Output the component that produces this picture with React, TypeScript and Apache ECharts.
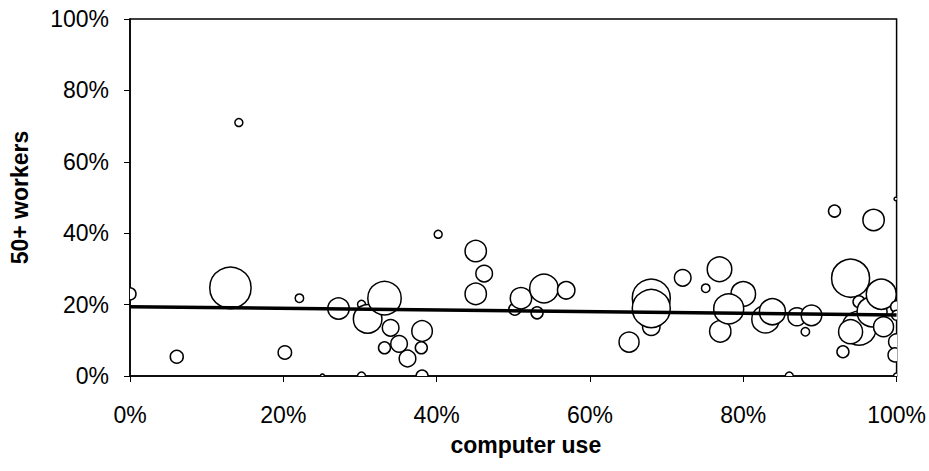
import React, { useEffect, useRef } from "react";
import * as echarts from "echarts";

// computer use (%), share of 50+ workers (%), employment weight (bubble area)
const computerUse = [
  0, 6.1, 13.1, 14.2, 20.2, 22.1, 25.1, 27.2, 30.2, 30.2,
  31.0, 33.2, 33.2, 34.0, 35.1, 36.2, 38.1, 38.0, 38.1, 40.2,
  45.1, 46.2, 45.1, 50.2, 51.0, 53.1, 54.0, 56.9, 65.1, 68.0,
  68.0, 68.0, 72.1, 75.1, 76.9, 77.0, 80.0, 78.1, 82.9, 83.8,
  86.0, 87.0, 88.1, 88.9, 91.9, 93.0, 94.0, 95.1, 94.0, 95.1,
  96.8, 97.0, 98.0, 98.3, 99.9, 100, 100, 100, 99.8, 100,
];
const workers50 = [
  23.0, 5.4, 24.7, 71.0, 6.6, 21.8, 0, 18.9, 20.1, 0,
  16.0, 21.8, 7.9, 13.5, 9.0, 4.9, 12.6, 7.9, 0, 39.7,
  35.0, 28.7, 23.0, 18.7, 21.8, 17.7, 24.5, 24.0, 9.5, 13.8,
  21.8, 18.9, 27.5, 24.6, 29.9, 12.5, 23.0, 18.8, 15.9, 18.0,
  0, 16.6, 12.4, 17.0, 46.2, 6.8, 27.4, 13.4, 12.4, 20.8,
  18.0, 43.7, 22.9, 13.8, 49.6, 19.4, 17.0, 9.6, 5.9, 0,
];
const employment = [
  36, 42, 428, 16, 45, 18, 4, 114, 16, 16,
  204, 279, 36, 69, 69, 69, 106, 36, 36, 16,
  114, 69, 114, 36, 114, 36, 204, 76, 100, 76,
  361, 361, 69, 18, 151, 114, 151, 225, 188, 169,
  16, 81, 18, 106, 36, 36, 361, 289, 144, 36,
  225, 114, 225, 100, 3, 36, 25, 64, 49, 9,
];

// linear trend line
const trendX = [0, 100];
const trendY = [19.4, 17.1];

const yTicks = { min: 0, max: 100, interval: 20 };
const xTicks = { min: 0, max: 100, interval: 20 };

const FONT = "'Liberation Sans', Arial, sans-serif";

export default function App() {
  const ref = useRef<HTMLDivElement>(null);

  useEffect(() => {
    if (!ref.current) return;
    const chart = echarts.init(ref.current, null, { renderer: "svg" });

    const bubbles = computerUse.map((x, i) => [x, workers50[i], employment[i]]);
    const trend = trendX.map((x, i) => [x, trendY[i]]);

    chart.setOption({
      animation: false,
      backgroundColor: "#ffffff",
      grid: {
        left: 129,
        right: 31,
        top: 19,
        bottom: 95,
        show: true,
        borderColor: "#000",
        borderWidth: 1.5,
        backgroundColor: "#fff",
      },
      xAxis: {
        type: "value",
        min: xTicks.min,
        max: xTicks.max,
        interval: xTicks.interval,
        name: "computer use",
        nameLocation: "middle",
        nameGap: 57,
        nameTextStyle: {
          fontFamily: FONT,
          fontSize: 23,
          fontWeight: "bold",
          color: "#000",
          padding: [0, 0, 0, 25],
        },
        axisLine: { show: true, onZero: false, lineStyle: { color: "#000", width: 1.5 } },
        axisTick: { show: true, inside: false, length: 6, lineStyle: { color: "#000", width: 1 } },
        axisLabel: {
          formatter: "{value}%",
          fontFamily: FONT,
          fontSize: 23,
          color: "#000",
          margin: 27,
        },
        splitLine: { show: false },
      },
      yAxis: {
        type: "value",
        min: yTicks.min,
        max: yTicks.max,
        interval: yTicks.interval,
        name: "50+ workers",
        nameLocation: "middle",
        nameGap: 99,
        nameRotate: 90,
        nameTextStyle: {
          fontFamily: FONT,
          fontSize: 23,
          fontWeight: "bold",
          color: "#000",
        },
        axisLine: { show: true, onZero: false, lineStyle: { color: "#000", width: 1.5 } },
        axisTick: { show: true, inside: false, length: 6, lineStyle: { color: "#000", width: 1 } },
        axisLabel: {
          formatter: "{value}%",
          fontFamily: FONT,
          fontSize: 23,
          color: "#000",
          margin: 21,
        },
        splitLine: { show: false },
      },
      series: [
        {
          type: "custom",
          clip: true,
          z: 2,
          data: bubbles,
          encode: { x: 0, y: 1 },
          renderItem: (params: any, api: any) => {
            const p = api.coord([api.value(0), api.value(1)]);
            const r = Math.sqrt(api.value(2));
            return {
              type: "circle",
              shape: { cx: p[0], cy: p[1], r },
              style: { fill: "#fff", stroke: "#000", lineWidth: 1.5 },
            };
          },
        },
        {
          type: "line",
          z: 5,
          data: trend,
          symbol: "none",
          lineStyle: { color: "#000", width: 3.5 },
          silent: true,
        },
      ],
    });

    return () => chart.dispose();
  }, []);

  return (
    <div
      ref={ref}
      style={{ position: "fixed", left: 0, top: 0, width: 929, height: 471, background: "#fff" }}
    />
  );
}
